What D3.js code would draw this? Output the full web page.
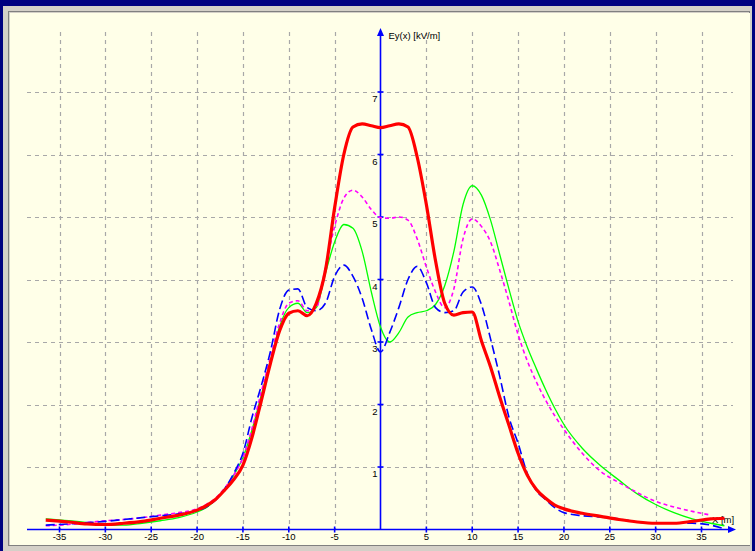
<!DOCTYPE html>
<html><head><meta charset="utf-8">
<script src="https://cdn.jsdelivr.net/npm/d3@7/dist/d3.min.js"></script>
<style>html,body{margin:0;padding:0;background:#000080;}svg{display:block;}</style>
</head><body>
<svg id="c" width="755" height="551"></svg>
<script>
const xs = [-36.5,-34,-32,-30,-28,-26,-24,-22,-20,-19,-18,-17,-16,-15,-14,-13,-12,-11,-10,-9,-8,-7,-6,-5,-4,-3,-2,-1,0,1,2,3,4,5,6,7,8,9,10,11,12,13,14,15,16,17,18,19,20,22,24,26,28,30,32,34,36,37.5];
const redVals = [0.15,0.12,0.09,0.08,0.10,0.13,0.18,0.23,0.31,0.38,0.48,0.63,0.80,1.03,1.48,2.06,2.66,3.18,3.46,3.50,3.42,3.62,4.15,5.15,6.00,6.44,6.49,6.46,6.43,6.46,6.49,6.44,5.96,5.20,4.30,3.62,3.43,3.47,3.48,3.02,2.60,2.12,1.67,1.22,0.87,0.64,0.50,0.39,0.33,0.26,0.21,0.16,0.12,0.10,0.10,0.13,0.17,0.18];
const blueVals = [0.07,0.09,0.11,0.13,0.16,0.19,0.22,0.25,0.30,0.36,0.47,0.65,0.90,1.22,1.80,2.30,2.85,3.52,3.83,3.85,3.55,3.50,3.62,4.05,4.23,4.05,3.70,3.20,2.84,3.15,3.55,4.00,4.21,3.95,3.55,3.47,3.50,3.80,3.88,3.60,3.05,2.45,1.80,1.38,0.90,0.62,0.48,0.35,0.27,0.22,0.20,0.17,0.12,0.10,0.10,0.10,0.07,0.01];
const magentaVals = [0.06,0.08,0.11,0.14,0.16,0.19,0.23,0.27,0.33,0.40,0.50,0.66,0.87,1.15,1.62,2.20,2.75,3.30,3.62,3.66,3.50,3.55,4.20,4.85,5.30,5.43,5.32,5.12,4.99,4.98,5.00,4.95,4.65,4.20,3.80,3.55,3.85,4.65,4.97,4.85,4.60,4.15,3.65,3.12,2.70,2.36,2.07,1.82,1.60,1.22,0.93,0.75,0.59,0.45,0.36,0.29,0.23,null];
const greenVals = [0.17,0.14,0.11,0.07,0.07,0.10,0.14,0.19,0.28,0.35,0.47,0.64,0.87,1.15,1.60,2.15,2.70,3.25,3.55,3.62,3.47,3.55,4.10,4.60,4.88,4.82,4.45,3.80,3.24,3.00,3.15,3.40,3.47,3.50,3.60,3.90,4.45,5.20,5.50,5.35,4.95,4.40,3.85,3.33,2.92,2.57,2.24,1.94,1.68,1.30,1.02,0.79,0.57,0.40,0.27,0.17,0.10,0.06];
const xTicks = [-35,-30,-25,-20,-15,-10,-5,5,10,15,20,25,30,35];
const yTicks = [1,2,3,4,5,6,7];
const xTitle = "X [m]";
const yTitle = "Ey(x) [kV/m]";

const svg = d3.select("#c");
// frame
svg.append("rect").attr("x",3).attr("y",6).attr("width",749).attr("height",545).attr("fill","#d4d0c8");
svg.append("rect").attr("x",8.5).attr("y",11.5).attr("width",741).attr("height",534).attr("fill","none").attr("stroke","#808080").attr("stroke-width",1);
svg.append("rect").attr("x",10).attr("y",13).attr("width",740).attr("height",532).attr("fill","#ffffe8");

const x = d3.scaleLinear().domain([-35,35]).range([59.5,701.5]);
const y = d3.scaleLinear().domain([0,7]).range([529.5,92]);
const x0 = x(0), y0 = y(0);

const grid = svg.append("g").attr("stroke","#a8a8a8").attr("stroke-width",1.2).attr("stroke-dasharray","4,4");
xTicks.forEach(t=>{
  grid.append("line").attr("x1",Math.round(x(t))+0.5).attr("x2",Math.round(x(t))+0.5).attr("y1",32).attr("y2",y0);
});
yTicks.forEach(t=>{
  grid.append("line").attr("x1",27).attr("x2",733).attr("y1",Math.round(y(t))+0.5).attr("y2",Math.round(y(t))+0.5);
});

// axes
const ax = svg.append("g").attr("stroke","#0000ff").attr("stroke-width",1.6);
ax.append("line").attr("x1",27).attr("x2",731).attr("y1",y0).attr("y2",y0);
ax.append("line").attr("x1",x0).attr("x2",x0).attr("y1",y0).attr("y2",33);
svg.append("path").attr("d",`M${x0},28 L${x0-3.5},36 L${x0+3.5},36 Z`).attr("fill","#0000ff");
svg.append("path").attr("d",`M736,${y0} L728,${y0-3.5} L728,${y0+3.5} Z`).attr("fill","#0000ff");
xTicks.forEach(t=>{
  ax.append("line").attr("x1",x(t)).attr("x2",x(t)).attr("y1",y0-3).attr("y2",y0+3);
});
yTicks.forEach(t=>{
  ax.append("line").attr("x1",x0-3).attr("x2",x0+3).attr("y1",y(t)).attr("y2",y(t));
});

const font = "'Liberation Sans', Arial, sans-serif";
const lab = svg.append("g").attr("font-family",font).attr("font-size",9.5).attr("fill","#000");
xTicks.forEach(t=>{
  lab.append("text").attr("x",x(t)).attr("y",540).attr("text-anchor","middle").text(t);
});
yTicks.forEach(t=>{
  lab.append("text").attr("x",x0-3).attr("y",y(t)+10).attr("text-anchor","end").text(t);
});
lab.append("text").attr("x",x0+8).attr("y",38.5).text(yTitle);
lab.append("text").attr("x",712).attr("y",523).text(xTitle);

// curves
const line = d3.line().defined(d=>d[1]!==null).x(d=>x(d[0])).y(d=>y(d[1])).curve(d3.curveMonotoneX);
function series(vals){ return xs.map((v,i)=>[v,vals[i]]); }
svg.append("path").datum(series(greenVals)).attr("d",line).attr("fill","none").attr("stroke","#00ff00").attr("stroke-width",1.3);
svg.append("path").datum(series(magentaVals)).attr("d",line).attr("fill","none").attr("stroke","#ff00ff").attr("stroke-width",1.6).attr("stroke-dasharray","4,3");
svg.append("path").datum(series(blueVals)).attr("d",line).attr("fill","none").attr("stroke","#0000ff").attr("stroke-width",1.6).attr("stroke-dasharray","9,4");
svg.append("path").datum(series(redVals)).attr("d",line).attr("fill","none").attr("stroke","#ff0000").attr("stroke-width",3.2);
</script>
</body></html>
